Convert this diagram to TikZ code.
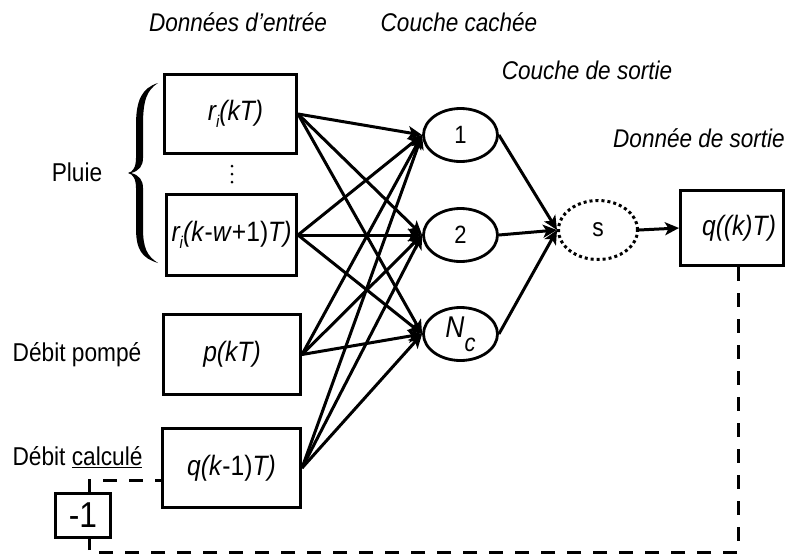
\documentclass[tikz,border=0pt]{standalone}
\usepackage{fontspec}
\setmainfont{Liberation Sans}[FakeStretch=0.88]
\usetikzlibrary{arrows.meta,shapes.geometric}
\newcommand{\mysub}[1]{\raisebox{-7pt}{\fontsize{17}{17}\selectfont #1}}
\begin{document}
\begin{tikzpicture}[x=1pt,y=-1pt,
  inbox/.style={draw, line width=3pt, inner sep=0pt, font=\fontsize{28}{32}\selectfont\itshape},
  hid/.style={draw, ellipse, line width=2.8pt, minimum width=74pt, minimum height=53pt, inner sep=0pt, font=\fontsize{25}{28}\selectfont},
  lab/.style={inner sep=0pt, font=\fontsize{25.8}{30}\selectfont},
  head/.style={inner sep=0pt, font=\fontsize{25.6}{30}\selectfont\itshape},
  conn/.style={line width=3pt, -{Stealth[length=14pt,width=13pt,inset=3.5pt]}},
  fb/.style={line width=3pt, dash pattern=on 14pt off 12pt}]
\path[use as bounding box] (0,0) rectangle (789,555);

% headings
\node[head] (h-in) at (238,22) {Données d’entrée};
\node[head] (h-hid) at (459,22) {Couche cachée};
\node[head] (h-out) at (587,70) {Couche de sortie};
\node[head] (h-res) at (699,138) {Donnée de sortie};

% input boxes
\node[inbox, minimum width=132pt, minimum height=79pt] (in1) at (230.5,114) {\hspace*{10pt}r\mysub{i}(kT)};
\node[inbox, minimum width=130pt, minimum height=81pt] (in2) at (231.5,235) {r\mysub{i}(k\textup{-}w\textup{+1)}T)};
\node[inbox, minimum width=137pt, minimum height=80pt] (in3) at (232,354.5) {p(kT)};
\node[inbox, minimum width=138pt, minimum height=79pt] (in4) at (231.5,468) {q(k\textup{-1)}T)};

% vertical dots
\fill (232,166) circle (1.5);
\fill (232,174) circle (1.5);
\fill (232,182) circle (1.5);

% brace
\fill (158,83) .. controls (142,88) and (136,100) .. (136,125) -- (136,158)
  .. controls (136,167) and (133,172) .. (128,173)
  .. controls (133,174) and (136,179) .. (136,188) -- (136,228)
  .. controls (136,250) and (142,258) .. (158,263)
  .. controls (147,256) and (143,248) .. (143,228) -- (143,188)
  .. controls (143,180) and (139,175) .. (131,173)
  .. controls (139,171) and (143,166) .. (143,158) -- (143,125)
  .. controls (143,100) and (147,90) .. (158,83) -- cycle;

% labels
\node[lab] (pluie) at (77,172) {Pluie};
\node[lab] (pompe) at (77,355) {Débit pompé};
\node[lab] (calc) at (77.5,457) {Débit \underline{calculé}};

% hidden layer
\node[hid] (n1) at (460.5,135) {1};
\node[hid] (n2) at (460.5,235) {2};
\node[hid] (n3) at (460.5,334) {\fontsize{30}{30}\selectfont\itshape N\raisebox{-14pt}{\fontsize{25}{25}\selectfont c}};

% output neuron
\node[draw, ellipse, line width=3pt, dash pattern=on 3pt off 3pt, minimum width=79pt, minimum height=59pt, inner sep=0pt, font=\fontsize{26}{28}\selectfont] (s) at (598,230) {s};

% output box
\node[inbox, minimum width=103pt, minimum height=75pt] (out) at (732,228) {\hspace*{14pt}q((k)T)};

% -1 box
\node[draw, line width=3pt, inner sep=0pt, minimum width=55pt, minimum height=44pt, font=\fontsize{36}{38}\selectfont] (m1) at (83,515.5) {-1};

% connections input -> hidden
\foreach \i in {in1,in2,in3,in4}{
  \foreach \j in {n1,n2,n3}{
    \draw[conn] (\i.east) -- (\j.west);
  }
}
% hidden -> output
\foreach \j in {n1,n2,n3}{
  \draw[conn] (\j.east) -- (s.west);
}
\draw[conn] (s.east) -- (out.west);

% feedback
\coordinate (c1) at (89,552);
\draw[fb] ([xshift=6pt]out.south) |- (c1) -- ([xshift=6pt]m1.south);
\draw[fb] ([xshift=6pt]m1.north) |- ([yshift=-12pt]in4.west);
\end{tikzpicture}
\end{document}
